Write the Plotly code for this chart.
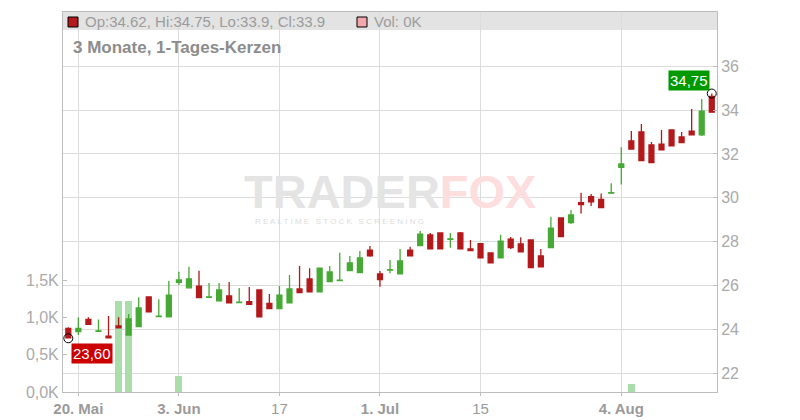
import plotly.graph_objects as go

# ---------------- data ----------------
idx = list(range(65))
opens = [24.05, 23.90, 24.46, 23.92, 23.70, 24.16, 23.75, 24.13, 25.48, 24.59,
         24.58, 26.15, 25.90, 25.98, 25.46, 25.31, 25.53, 25.23, 25.27, 25.80,
         25.19, 24.95, 25.22, 25.85, 26.30, 25.72, 26.18, 26.23, 26.68, 26.59,
         27.62, 26.53, 26.71, 26.54, 27.62, 27.82, 28.31, 28.40, 28.11, 28.40,
         27.67, 27.91, 27.49, 27.27, 28.12, 27.90, 28.08, 27.35, 27.73, 29.08,
         28.87, 29.78, 30.05, 29.93, 30.21, 31.39, 32.59, 33.00, 32.41, 32.45,
         33.09, 32.77, 33.04, 32.87, 34.62]
highs = [24.10, 24.56, 24.56, 24.46, 24.61, 24.56, 24.71, 25.47, 25.48, 25.38,
         26.21, 26.63, 26.86, 26.68, 26.12, 26.12, 26.16, 25.89, 25.94, 25.80,
         25.62, 25.98, 26.48, 26.89, 26.79, 26.80, 26.89, 27.50, 27.35, 27.58,
         27.80, 26.67, 27.17, 27.67, 27.77, 28.49, 28.40, 28.40, 28.40, 28.44,
         28.08, 27.91, 27.49, 28.32, 28.21, 28.20, 28.08, 27.67, 29.14, 29.08,
         29.44, 30.23, 30.17, 30.20, 30.66, 32.30, 33.04, 33.36, 32.54, 33.09,
         33.09, 33.00, 34.05, 34.50, 34.75]
lows = [23.60, 23.75, 24.24, 23.92, 23.62, 24.08, 23.75, 24.13, 24.81, 24.59,
        24.58, 26.03, 25.90, 25.45, 25.46, 25.31, 25.22, 25.23, 25.15, 24.58,
        24.95, 24.95, 25.22, 25.68, 25.72, 25.72, 26.18, 26.23, 26.68, 26.59,
        27.32, 25.95, 26.56, 26.54, 27.36, 27.82, 27.68, 27.68, 27.73, 27.68,
        27.59, 27.27, 27.04, 27.27, 27.67, 27.54, 26.82, 26.86, 27.73, 28.23,
        28.81, 29.29, 29.63, 29.55, 30.21, 30.61, 32.22, 31.69, 31.60, 32.18,
        32.37, 32.51, 32.87, 32.82, 33.90]
closes = [23.62, 24.05, 24.24, 23.94, 23.62, 24.08, 24.48, 24.98, 24.81, 24.61,
          25.57, 26.26, 26.30, 25.45, 25.48, 25.80, 25.22, 25.25, 25.15, 24.58,
          24.95, 25.57, 25.85, 25.68, 25.72, 26.80, 26.62, 26.25, 27.03, 27.26,
          27.36, 26.27, 26.73, 27.12, 27.36, 28.35, 27.68, 27.68, 28.13, 27.68,
          27.59, 27.27, 27.04, 28.03, 27.73, 27.54, 26.82, 26.86, 28.62, 28.23,
          29.22, 29.69, 29.82, 29.55, 30.23, 31.54, 32.22, 31.69, 31.60, 32.18,
          32.37, 32.51, 32.87, 33.95, 33.90]
volumes = [0, 0, 0, 0, 0, 1.22, 1.22, 0, 0, 0,
           0, 0.22, 0, 0, 0, 0, 0, 0, 0, 0,
           0, 0, 0, 0, 0, 0, 0, 0, 0, 0,
           0, 0, 0, 0, 0, 0, 0, 0, 0, 0,
           0, 0, 0, 0, 0, 0, 0, 0, 0, 0,
           0, 0, 0, 0, 0, 0, 0.11, 0, 0, 0,
           0, 0, 0, 0, 0]
date_ticks = [1, 11, 21, 31, 41, 55]
date_labels = ["<b>20. Mai</b>", "<b>3. Jun</b>", "17", "<b>1. Jul</b>", "15", "<b>4. Aug</b>"]
price_ticks = [22, 24, 26, 28, 30, 32, 34, 36]
vol_ticks = [0, 0.5, 1.0, 1.5]
vol_labels = ["0,0K", "0,5K", "1,0K", "1,5K"]
low_idx, low_val, low_text = 0, 23.60, "23,60"
high_idx, high_val, high_text = 64, 34.75, "34,75"
legend_text = "Op:34.62, Hi:34.75, Lo:33.9, Cl:33.9"
vol_text = "Vol: 0K"
title_text = "3 Monate, 1-Tages-Kerzen"

RED = "#b3191b"
GREEN = "#47a935"
GRAY = "#9a9a9a"
FONT = "Liberation Sans, Arial, sans-serif"

# page offset of the plotly div (body margin)
OFF = 8
FIG_W, FIG_H = 800 - OFF, 420 - OFF
# plot area in page pixels
L, R, T, B = 63, 717, 12, 392
W, H = R - L, B - T


def px(p):
    return (p - L) / W


def py(p):
    return (B - p) / H


fig = go.Figure()

fig.add_trace(go.Bar(
    x=idx, y=volumes, width=0.7, marker=dict(color="#a9dda9", line=dict(width=0)),
    yaxis="y", xaxis="x", hoverinfo="skip", showlegend=False,
))

fig.add_trace(go.Candlestick(
    x=idx, open=opens, high=highs, low=lows, close=closes,
    increasing=dict(line=dict(color=GREEN, width=1.3), fillcolor=GREEN),
    decreasing=dict(line=dict(color=RED, width=1.3), fillcolor=RED),
    whiskerwidth=0, yaxis="y2", xaxis="x", showlegend=False,
))

fig.add_trace(go.Scatter(
    x=[low_idx, high_idx], y=[low_val, high_val], mode="markers",
    marker=dict(symbol="circle-open", size=9, color="black", line=dict(width=1)),
    yaxis="y2", xaxis="x", showlegend=False, hoverinfo="skip",
))

fig.update_layout(
    width=FIG_W, height=FIG_H,
    margin=dict(l=L - OFF, r=FIG_W - (R - OFF), t=T - OFF, b=FIG_H - (B - OFF), pad=0,
                autoexpand=False),
    paper_bgcolor="white", plot_bgcolor="white",
    font=dict(family=FONT, color=GRAY, size=16),
    boxgap=0.3,
    bargap=0,
    xaxis=dict(
        range=[-0.527, 64.52], rangeslider=dict(visible=False), automargin=False,
        tickmode="array", tickvals=date_ticks, ticktext=date_labels,
        tickfont=dict(size=15, color=GRAY),
        showgrid=True, gridcolor="#dcdcdc", gridwidth=1,
        showline=True, linecolor="#bdbdbd", linewidth=1, mirror=True,
        ticks="outside", ticklen=3, tickcolor="#bdbdbd",
        zeroline=False, fixedrange=True,
    ),
    yaxis=dict(
        side="left", range=[0, 5.12], automargin=False,
        tickmode="array", tickvals=vol_ticks, ticktext=vol_labels,
        tickfont=dict(size=16, color="#aaaaaa"),
        showgrid=False, zeroline=False,
        showline=True, linecolor="#bdbdbd", linewidth=1,
        ticks="inside", ticklen=4, tickcolor="#bdbdbd",
    ),
    yaxis2=dict(
        side="right", overlaying="y", range=[21.153, 38.465], automargin=False,
        tickmode="array", tickvals=price_ticks, ticktext=[str(v) for v in price_ticks],
        tickfont=dict(size=16, color="#aaaaaa"),
        showgrid=True, gridcolor="#dcdcdc", gridwidth=1,
        zeroline=False,
        showline=True, linecolor="#bdbdbd", linewidth=1,
        ticks="inside", ticklen=4, tickcolor="#bdbdbd",
    ),
)

# header band
fig.add_shape(type="rect", xref="paper", yref="paper",
              x0=0, x1=1, y0=py(30), y1=1, fillcolor="#e3e3e3",
              line=dict(width=0), layer="below")
# legend squares
fig.add_shape(type="rect", xref="paper", yref="paper",
              x0=px(68), x1=px(78), y0=py(27), y1=py(17),
              fillcolor=RED, line=dict(color="black", width=1))
fig.add_shape(type="rect", xref="paper", yref="paper",
              x0=px(357), x1=px(367), y0=py(27), y1=py(17),
              fillcolor="#f2a7ae", line=dict(color="black", width=1))

annotations = [
    dict(text=legend_text, x=px(83), y=py(22), xref="paper", yref="paper",
         xanchor="left", yanchor="middle", showarrow=False,
         font=dict(size=15, color="#9c9c9c", family=FONT)),
    dict(text=vol_text, x=px(372), y=py(22), xref="paper", yref="paper",
         xanchor="left", yanchor="middle", showarrow=False,
         font=dict(size=15, color="#9c9c9c", family=FONT)),
    dict(text="<b>" + title_text + "</b>", x=px(71), y=py(48), xref="paper", yref="paper",
         xanchor="left", yanchor="middle", showarrow=False,
         font=dict(size=17, color="#8c8c8c", family=FONT)),
    # watermark
    dict(text="<b><span style='color:#e4e4e4'>TRADER</span><span style='color:#fcdede'>FOX</span></b>",
         x=px(390), y=py(191), xref="paper", yref="paper",
         xanchor="center", yanchor="middle", showarrow=False,
         font=dict(size=47, family=FONT)),
    dict(text="R E A L T I M E   S T O C K   S C R E E N I N G",
         x=px(339), y=py(221), xref="paper", yref="paper",
         xanchor="center", yanchor="middle", showarrow=False,
         font=dict(size=8, color="#dcdcdc", family=FONT)),
    # high / low labels
    dict(text=high_text, x=high_idx, y=high_val, xref="x", yref="y2",
         xanchor="right", yanchor="bottom", xshift=-2, yshift=3, showarrow=False,
         bgcolor="#009a00", borderpad=1,
         font=dict(size=15, color="white", family=FONT)),
    dict(text=low_text, x=low_idx, y=low_val, xref="x", yref="y2",
         xanchor="left", yanchor="top", xshift=3, yshift=-5, showarrow=False,
         bgcolor="#cc0000", borderpad=1,
         font=dict(size=15, color="white", family=FONT)),
]
fig.update_layout(annotations=annotations)

fig.write_html("out.html")
